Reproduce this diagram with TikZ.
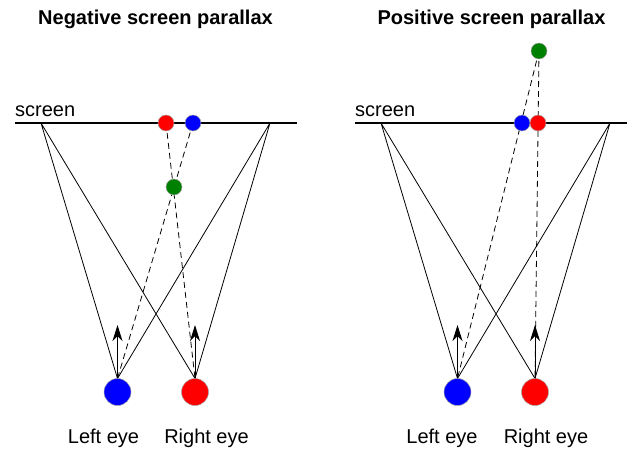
\documentclass[tikz,border=0pt]{standalone}
\usepackage{fontspec}
\setmainfont{Liberation Sans}
\usetikzlibrary{arrows.meta}
\begin{document}
\begin{tikzpicture}[x=1pt,y=-1pt,
  screenline/.style={line width=2pt},
  ray/.style={line width=0.8pt},
  sight/.style={line width=0.8pt,dash pattern=on 6pt off 4pt},
  gaze/.style={line width=1pt,-{Stealth[length=16pt,width=10pt,inset=5pt]}},
  dot/.style={circle,inner sep=0pt,minimum size=16pt,draw=gray!70,line width=0.5pt},
  eyeball/.style={circle,inner sep=0pt,minimum size=27pt,draw=gray!70,line width=0.5pt},
  title/.style={font=\fontsize{20}{24}\selectfont\bfseries,anchor=base},
  lbl/.style={font=\fontsize{20}{24}\selectfont,anchor=base}]
\useasboundingbox (0,0) rectangle (627,448);
% ---------- left panel ----------
\node[title] (t1) at (155.5,24) {Negative screen parallax};
\node[lbl,anchor=base west,inner sep=0pt] (s1) at (15,116) {screen};
\coordinate (a1) at (15,123);
\coordinate (b1) at (297,123);
\draw[screenline] (a1) -- (b1);
\coordinate (p1) at (41,123);
\coordinate (q1) at (270,123);
\coordinate (le1) at (117.5,392);
\coordinate (re1) at (195,392);
\coordinate (lt1) at (117.5,378.5);
\coordinate (rt1) at (195,378.5);
\coordinate (rd1) at (166,123);
\coordinate (bd1) at (193,123);
\coordinate (gd1) at (174,187);
\draw[ray] (p1) -- (lt1) (p1) -- (rt1) (q1) -- (lt1) (q1) -- (rt1);
\draw[sight] (rd1) -- (rt1);
\draw[sight] (bd1) -- (lt1);
\coordinate (ltip1) at (117.5,325);
\coordinate (rtip1) at (195,325);
\draw[gaze] (lt1) -- (ltip1);
\draw[gaze] (rt1) -- (rtip1);
\node[dot,fill=red] (R1) at (rd1) {};
\node[dot,fill=blue] (B1) at (bd1) {};
\node[dot,fill=green!50!black] (G1) at (gd1) {};
\node[eyeball,fill=blue] (LE1) at (le1) {};
\node[eyeball,fill=red] (RE1) at (re1) {};
\node[lbl] (ll1) at (103.5,443) {Left eye};
\node[lbl] (rl1) at (206.5,443) {Right eye};
% ---------- right panel ----------
\node[title] (t2) at (491.5,24) {Positive screen parallax};
\node[lbl,anchor=base west,inner sep=0pt] (s2) at (355,116) {screen};
\coordinate (a2) at (355,123);
\coordinate (b2) at (627,123);
\draw[screenline] (a2) -- (b2);
\coordinate (p2) at (381,123);
\coordinate (q2) at (610,123);
\coordinate (le2) at (457.5,392);
\coordinate (re2) at (535,392);
\coordinate (lt2) at (457.5,378.5);
\coordinate (rt2) at (535,378.5);
\coordinate (rd2) at (538,123);
\coordinate (bd2) at (522,123);
\coordinate (gd2) at (539,51);
\draw[ray] (p2) -- (lt2) (p2) -- (rt2) (q2) -- (lt2) (q2) -- (rt2);
\draw[sight] (gd2) -- (rt2);
\draw[sight] (gd2) -- (lt2);
\coordinate (ltip2) at (457.5,325);
\coordinate (rtip2) at (535,325);
\draw[gaze] (lt2) -- (ltip2);
\draw[gaze] (rt2) -- (rtip2);
\node[dot,fill=blue] (B2) at (bd2) {};
\node[dot,fill=red] (R2) at (rd2) {};
\node[dot,fill=green!50!black] (G2) at (gd2) {};
\node[eyeball,fill=blue] (LE2) at (le2) {};
\node[eyeball,fill=red] (RE2) at (re2) {};
\node[lbl] (ll2) at (442,443) {Left eye};
\node[lbl] (rl2) at (546,443) {Right eye};
\end{tikzpicture}
\end{document}
